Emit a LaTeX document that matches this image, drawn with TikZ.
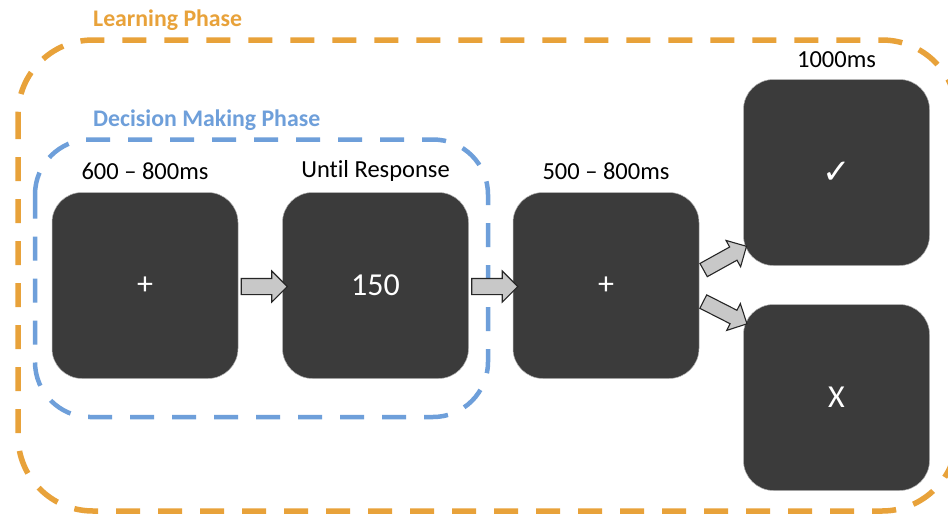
\documentclass[tikz,border=0pt]{standalone}
\usepackage{fontspec}
\setmainfont{Carlito}[Ligatures=NoCommon]
\newfontfamily\symfont{DejaVu Sans}
\usetikzlibrary{shapes.arrows,calc}
\definecolor{phaseorange}{HTML}{E8A23A}
\definecolor{phaseblue}{HTML}{6E9FDA}
\definecolor{boxdark}{HTML}{3B3B3B}
\definecolor{arrowgray}{HTML}{C8C8C8}
\tikzset{
  stimbox/.style={draw=gray!60, line width=0.5pt, fill=boxdark, rounded corners=30pt,
    minimum width=186pt, minimum height=186pt, inner sep=0pt, text=white,
    font=\fontsize{32}{36}\selectfont},
  timelbl/.style={inner sep=0pt, text=black, font=\fontsize{24.5}{28}\selectfont},
  phaselbl/.style={inner sep=0pt, anchor=west, font=\fontsize{23.8}{28}\selectfont\bfseries},
  blockarrow/.style={single arrow, draw=black!85, fill=arrowgray, line width=1.1pt,
    inner sep=0pt, text height=7.5pt, text depth=7.5pt, text width=0pt,
    single arrow head extend=7.5pt, single arrow head indent=0pt},
  phaseframe/.style={rounded corners=#1, dash pattern=on 24pt off 18pt},
}
\begin{document}
\begin{tikzpicture}[x=1pt,y=-1pt]
\clip (0,0) rectangle (948,517);
\fill[white] (0,0) rectangle (948,517);
% phase frames
\draw[phaseframe=75pt, draw=phaseorange, line width=5.5pt] (18,40) rectangle (957,511);
\draw[phaseframe=55pt, draw=phaseblue, line width=4.5pt] (35,139.5) rectangle (488,417);
\node[phaselbl, text=phaseorange] (lp) at (93,20) {Learning Phase};
\node[phaselbl, text=phaseblue] (dmp) at (93,120) {Decision Making Phase};
% stimulus boxes
\node[stimbox] (b1) at (145,285.5) {+};
\node[stimbox] (b2) at (375.5,285.5) {150};
\node[stimbox] (b3) at (606,285.5) {+};
\node[stimbox] (b4) at (836.5,172.5) {\symfont\fontsize{34}{38}\selectfont ✓};
\node[stimbox] (b5) at (836.5,397.5) {X};
% timing labels
\node[timelbl] (t1) at ($(b1.north)+(0,-21)$) {600 – 800ms};
\node[timelbl] (t2) at ($(b2.north)+(0,-21)$) {Unt\kern0pt il Response};
\node[timelbl] (t3) at ($(b3.north)+(0,-21)$) {500 – 800ms};
\node[timelbl] (t4) at ($(b4.north)+(0,-20)$) {1000ms};
% arrows
\node[blockarrow, minimum height=46pt] (a1) at ($(b1.east)!0.5!(b2.west)+(0,1)$) {};
\node[blockarrow, minimum height=46pt] (a2) at ($(b2.east)!0.5!(b3.west)+(0,1)$) {};
\node[blockarrow, minimum height=49pt, text height=7pt, text depth=7pt, rotate=29] (a3) at ($(b3.east)+(22.5,-25.5)$) {};
\node[blockarrow, minimum height=49pt, text height=7pt, text depth=7pt, rotate=-27] (a4) at ($(b3.east)+(22.5,25.5)$) {};
\end{tikzpicture}
\end{document}
